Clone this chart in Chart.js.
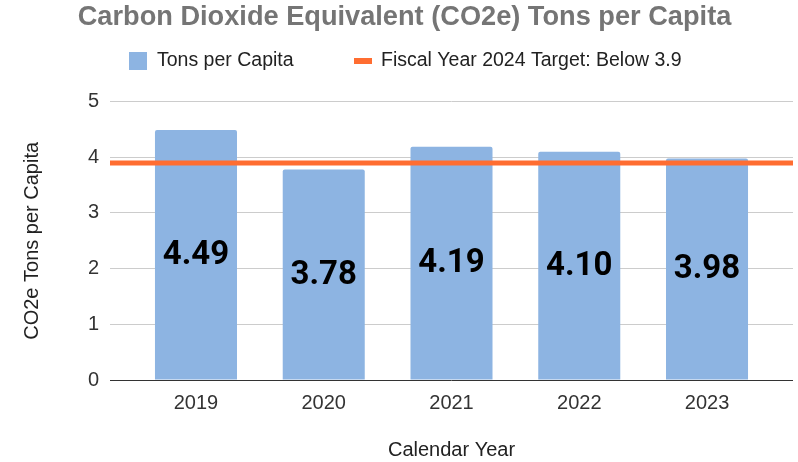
<!DOCTYPE html>
<html>
<head>
<meta charset="utf-8">
<script src="https://cdn.jsdelivr.net/npm/chart.js@4.4.1/dist/chart.umd.min.js"></script>
<style>
html,body{margin:0;padding:0;background:#fff;}
#wrap{width:798px;height:462px;position:relative;}
</style>
</head>
<body>
<div id="wrap"><canvas id="c" width="798" height="462"></canvas></div>
<script>
const years = ['2019', '2020', '2021', '2022', '2023'];
const tonsPerCapita = [4.49, 3.78, 4.19, 4.10, 3.98];
const targetValue = 3.9;
const yTicks = [0, 1, 2, 3, 4, 5];
const barLabel = 'Tons per Capita';
const targetLabel = 'Fiscal Year 2024 Target: Below 3.9';
const titleText = 'Carbon Dioxide Equivalent (CO2e) Tons per Capita';
const yTitle = 'CO2e Tons per Capita';
const xTitle = 'Calendar Year';

const X_MIN = -0.673, X_MAX = years.length - 1 + 0.673;
const BAR_COLOR = '#8db4e2';
const LINE_COLOR = '#ff6d31';
const FONT = "'Liberation Sans', Arial, sans-serif";

const barData = tonsPerCapita.map((v, i) => ({x: i, y: v}));
const targetData = [{x: X_MIN, y: targetValue}, {x: X_MAX, y: targetValue}];

const valueLabels = {
  id: 'valueLabels',
  afterDatasetsDraw(chart) {
    const ctx = chart.ctx;
    const meta = chart.getDatasetMeta(0);
    ctx.save();
    ctx.font = "bold 33px Roboto, 'Liberation Sans', sans-serif";
    ctx.fillStyle = '#000';
    ctx.textAlign = 'center';
    ctx.textBaseline = 'middle';
    meta.data.forEach((bar, i) => {
      const mid = (bar.y + bar.base) / 2 + 1;
      ctx.fillText(tonsPerCapita[i].toFixed(2), bar.x, mid);
    });
    ctx.restore();
  }
};

const customLegend = {
  id: 'customLegend',
  afterDraw(chart) {
    const ctx = chart.ctx;
    ctx.save();
    ctx.font = "19.5px " + FONT;
    ctx.textBaseline = 'middle';
    const cy = 61;
    ctx.fillStyle = BAR_COLOR;
    ctx.fillRect(129, cy - 9, 18, 18);
    ctx.fillStyle = '#222';
    ctx.fillText(chart.data.datasets[0].label, 157, cy);
    ctx.fillStyle = LINE_COLOR;
    ctx.fillRect(354, cy - 3, 18, 6);
    ctx.fillStyle = '#222';
    ctx.fillText(chart.data.datasets[1].label, 381, cy);
    ctx.restore();
  }
};

new Chart(document.getElementById('c'), {
  type: 'bar',
  data: {
    datasets: [
      {
        type: 'bar',
        label: barLabel,
        data: barData,
        backgroundColor: BAR_COLOR,
        borderRadius: {topLeft: 2, topRight: 2},
        borderSkipped: 'bottom',
        barPercentage: 0.642,
        categoryPercentage: 1,
        order: 2
      },
      {
        type: 'line',
        label: targetLabel,
        data: targetData,
        borderColor: LINE_COLOR,
        backgroundColor: LINE_COLOR,
        borderWidth: 5,
        pointRadius: 0,
        fill: false,
        order: 1
      }
    ]
  },
  options: {
    responsive: false,
    animation: false,
    layout: {padding: {left: 16, right: 5, top: 0, bottom: 0}},
    plugins: {
      legend: {display: false},
      tooltip: {enabled: false},
      title: {
        display: true,
        text: titleText,
        color: '#757575',
        font: {family: FONT, size: 27.2, weight: 'bold'},
        padding: {top: 1, bottom: 68}
      }
    },
    scales: {
      x: {
        type: 'linear',
        offset: false,
        min: X_MIN,
        max: X_MAX,
        grid: {display: false, drawTicks: false},
        border: {display: false},
        ticks: {
          stepSize: 1,
          includeBounds: false,
          autoSkip: false,
          maxRotation: 0,
          padding: 11,
          color: '#333',
          font: {family: FONT, size: 20},
          callback: (v) => (Number.isInteger(v) && years[v] !== undefined) ? years[v] : ''
        },
        title: {display: true, text: xTitle, color: '#222', font: {family: FONT, size: 20}, padding: {top: -3, bottom: 0}},
        afterFit: (s) => { s.height = 82; }
      },
      y: {
        min: yTicks[0],
        max: yTicks[yTicks.length - 1],
        grid: {
          drawTicks: false,
          color: (c) => c.tick && c.tick.value === 0 ? '#333' : '#cccccc',
          lineWidth: 1
        },
        border: {display: false},
        ticks: {
          stepSize: 1,
          padding: 11,
          color: '#333',
          font: {family: FONT, size: 20}
        },
        title: {display: true, text: yTitle, color: '#222', font: {family: FONT, size: 20}, padding: {top: 4, bottom: 0}},
        afterFit: (s) => { s.width = 94; }
      }
    }
  },
  plugins: [valueLabels, customLegend]
});
</script>
</body>
</html>
